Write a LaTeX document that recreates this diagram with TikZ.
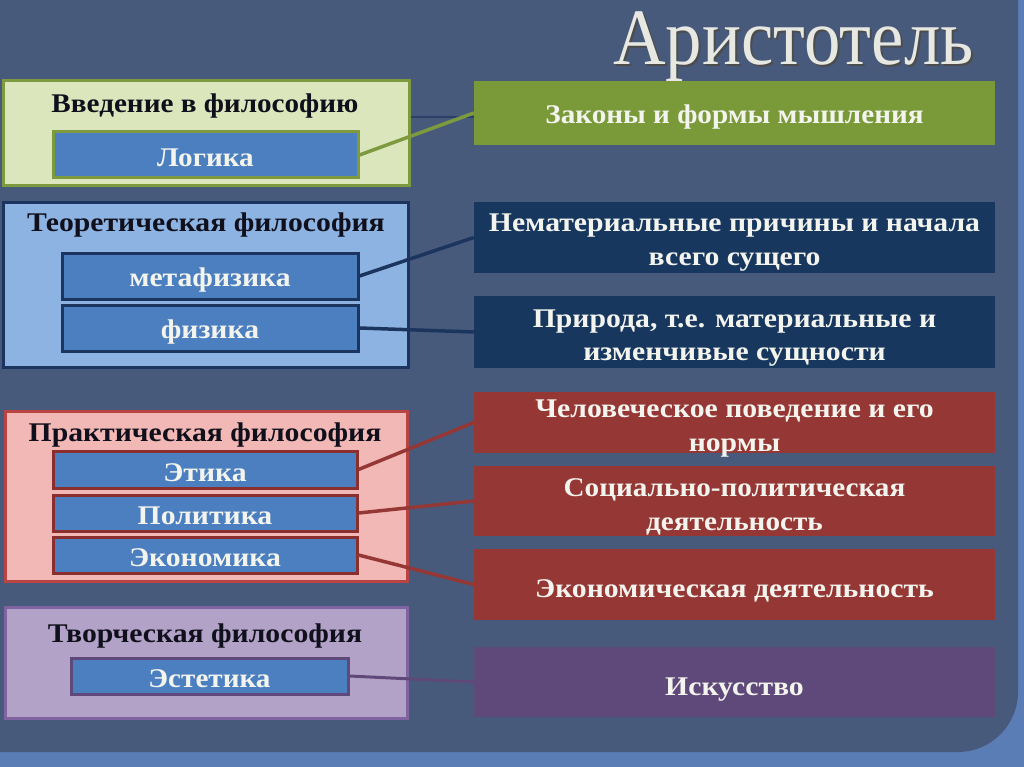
\documentclass[tikz,border=0pt]{standalone}
\usepackage{fontspec}
\setmainfont{Liberation Serif}
\newfontfamily\wideserif{Liberation Serif}[FakeStretch=1.1]
\newfontfamily\narrowserif{Liberation Serif}[FakeStretch=1.08]
\definecolor{bgdark}{HTML}{475A7C}
\definecolor{bglight}{HTML}{5A7DB5}
\definecolor{grfill}{HTML}{DCE6BC}
\definecolor{grline}{HTML}{7D9B3E}
\definecolor{grbox}{HTML}{7A9A3A}
\definecolor{blfill}{HTML}{8DB3E2}
\definecolor{blline}{HTML}{1C355E}
\definecolor{navybox}{HTML}{17375E}
\definecolor{pkfill}{HTML}{F2B8B6}
\definecolor{pkline}{HTML}{B84444}
\definecolor{pkinner}{HTML}{8B2E2E}
\definecolor{redbox}{HTML}{953735}
\definecolor{lvfill}{HTML}{B3A2C7}
\definecolor{lvline}{HTML}{8064A2}
\definecolor{lvinner}{HTML}{5F497A}
\definecolor{purbox}{HTML}{5F497A}
\definecolor{innerblue}{HTML}{4B7FC0}
\definecolor{titletext}{HTML}{10101C}
\definecolor{lighttext}{HTML}{F4F4EE}
\definecolor{faintline}{HTML}{2B4066}
\tikzset{
  outerbox/.style={draw, line width=3pt, inner sep=0pt, minimum width=#1},
  innerbox/.style={draw, line width=3pt, fill=innerblue, inner sep=0pt},
  rightbox/.style={inner sep=0pt, minimum width=521pt},
  lbl/.style={inner sep=0pt, text=lighttext, align=center},
  grouptitle/.style={text=titletext, inner sep=0pt},
  txt/.style={font=\wideserif\bfseries\fontsize{27}{33.5}\selectfont},
  ntxt/.style={font=\narrowserif\bfseries\fontsize{27}{33.5}\selectfont},
  link/.style={line width=3.5pt}
}
\begin{document}
\begin{tikzpicture}[x=1pt,y=-1pt]
\useasboundingbox (0,0) rectangle (1024,767);
% background
\fill[bglight] (0,0) rectangle (1024,767);
\fill[bgdark] (0,0) -- (1018,0) -- (1018,692) .. controls (1018,725) and (991,752) .. (958,752) -- (0,752) -- cycle;
% title
\node[anchor=base, text=black!70, inner sep=0pt, font=\fontsize{80}{82}\selectfont] (ttlshadow) at (795.5,67) {\scalebox{0.91}[1]{Аристотель}};
\node[anchor=base, text=lighttext!90!gray, inner sep=0pt, font=\fontsize{80}{82}\selectfont] (ttl) at (793.5,65) {\scalebox{0.91}[1]{Аристотель}};
% left outer boxes
\node[outerbox=406pt, minimum height=105pt, draw=grline, fill=grfill] (A) at (206,133.5) {};
\node[outerbox=405pt, minimum height=164pt, draw=blline, fill=blfill] (B) at (205.5,285) {};
\node[outerbox=402pt, minimum height=170pt, draw=pkline, fill=pkfill] (C) at (206,496) {};
\node[outerbox=402pt, minimum height=111pt, draw=lvline, fill=lvfill] (D) at (206,662.5) {};
% group titles
\node[grouptitle, ntxt] (At) at (205,106) {Введение в философию};
\node[grouptitle, txt] (Bt) at (206,225) {Теоретическая философия};
\node[grouptitle, txt] (Ct) at (205,435) {Практическая философия};
\node[grouptitle, txt] (Dt) at (205,636) {Творческая философия};
% inner boxes
\node[innerbox, draw=grline, minimum width=305pt, minimum height=46pt] (logic) at (205.5,155) {};
\node[innerbox, draw=blline, minimum width=296pt, minimum height=46pt] (meta) at (210,276) {};
\node[innerbox, draw=blline, minimum width=296pt, minimum height=46pt] (fiz) at (210,328) {};
\node[innerbox, draw=pkinner, minimum width=304pt, minimum height=37pt] (etika) at (205,469.5) {};
\node[innerbox, draw=pkinner, minimum width=304pt, minimum height=36pt] (polit) at (205,513) {};
\node[innerbox, draw=pkinner, minimum width=304pt, minimum height=36pt] (econ) at (205,555) {};
\node[innerbox, draw=lvinner, minimum width=277pt, minimum height=36pt] (estet) at (209.5,676) {};
\node[lbl, ntxt] (logic-t) at ([yshift=-3pt]logic.center) {Логика};
\node[lbl, txt] (meta-t) at ([yshift=-4pt]meta.center) {метафизика};
\node[lbl, txt] (fiz-t) at ([yshift=-4pt]fiz.center) {физика};
\node[lbl, txt] (etika-t) at ([yshift=-3pt]etika.center) {Этика};
\node[lbl, txt] (polit-t) at ([yshift=-3pt]polit.center) {Политика};
\node[lbl, txt] (econ-t) at ([yshift=-3pt]econ.center) {Экономика};
\node[lbl, ntxt] (estet-t) at ([yshift=-3pt]estet.center) {Эстетика};
% right boxes
\node[rightbox, fill=grbox, minimum height=64pt] (R1) at (734.5,113) {};
\node[rightbox, fill=navybox, minimum height=71pt] (R2) at (734.5,237.5) {};
\node[rightbox, fill=navybox, minimum height=72pt] (R3) at (734.5,332) {};
\node[rightbox, fill=redbox, minimum height=61pt] (R4) at (734.5,422.5) {};
\node[rightbox, fill=redbox, minimum height=70pt] (R5) at (734.5,501) {};
\node[rightbox, fill=redbox, minimum height=71pt] (R6) at (734.5,584.5) {};
\node[rightbox, fill=purbox, minimum height=70pt] (R7) at (734.5,682) {};
\node[lbl, ntxt] (R1-t) at ([yshift=-4pt]R1.center) {Законы и формы мышления};
\node[lbl, txt] (R2-t) at ([yshift=-5pt]R2.center) {Нематериальные причины и начала\\всего сущего};
\node[lbl, txt] (R3-t) at ([yshift=-6pt]R3.center) {Природа, т.е. материальные и\\изменчивые сущности};
\node[lbl, txt] (R4-t) at ([yshift=-6pt]R4.center) {Человеческое поведение и его\\нормы};
\node[lbl, ntxt] (R5-t) at ([yshift=-6pt]R5.center) {Социально-политическая\\деятельность};
\node[lbl, txt] (R6-t) at ([yshift=-6pt]R6.center) {Экономическая деятельность};
\node[lbl, txt] (R7-t) at ([yshift=-8pt]R7.center) {Искусство};
% connectors
\draw[faintline, line width=1.5pt] ([yshift=-4pt]A.east |- R1.west) -- ([yshift=-4pt]R1.west);
\draw[link, grline] (logic.east) -- (R1.west);
\draw[link, blline] (meta.east) -- (R2.west);
\draw[link, blline] (fiz.east) -- (R3.west);
\draw[link, redbox] (etika.east) -- (R4.west);
\draw[link, redbox] (polit.east) -- (R5.west);
\draw[link, redbox] (econ.east) -- (R6.west);
\draw[link, lvinner, line width=3pt] (estet.east) -- (R7.west);
\end{tikzpicture}
\end{document}
